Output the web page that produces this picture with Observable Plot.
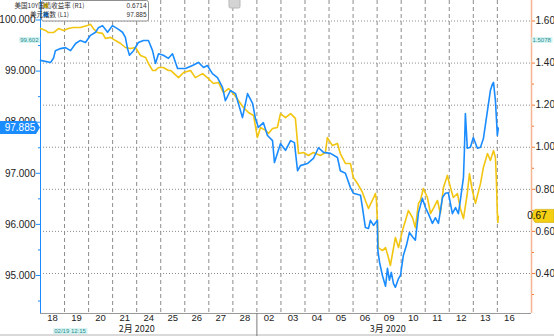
<!DOCTYPE html>
<html><head><meta charset="utf-8">
<script src="https://cdn.jsdelivr.net/npm/d3@7"></script>
<script src="https://cdn.jsdelivr.net/npm/@observablehq/plot@0.6"></script>
<style>
html,body{margin:0;padding:0;background:#fff;}
#chart{width:554px;height:336px;overflow:hidden;}
</style></head><body><div id="chart"></div>
<script>
// ---- data (x = trading-day index from 18 Feb 2020; 1 unit = 1 trading day) ----
const dayLabels = ["18","19","20","21","24","25","26","27","28","02","03","04","05","06","09","10","11","12","13","16"];
const monthNames = ["2月 2020", "3月 2020"];
const dxyName = "美元指数 (L1)";
const yieldName = "美国10Y国债收益率 (R1)";
const lastDxy = 97.885;
const lastYield = 0.6714;
const crossLeft = "99.602", crossRight = "1.5078", crossTime = "02/19 12:15";
const leftTicks = [95, 96, 97, 98, 99, 100];
const leftMinor = [94.5, 95.5, 96.5, 97.5, 98.5, 99.5];
const rightTicks = [0.4, 0.6, 0.8, 1.0, 1.2, 1.4, 1.6];
const rightMinor = [0.3, 0.5, 0.7, 0.9, 1.1, 1.3, 1.5];

const dxySeries = [
[0,99.21],[0.42,99.17],[0.54,99.25],[0.62,99.40],[0.83,99.44],[1.04,99.46],[1.25,99.40],[1.46,99.54],[1.66,99.60],[1.87,99.56],
[2.08,99.70],[2.29,99.76],[2.41,99.85],[2.58,99.89],[2.79,99.76],[2.99,99.89],[3.20,99.83],[3.41,99.76],[3.53,99.66],[3.62,99.44],
[3.70,99.31],[3.87,99.40],[4.07,99.56],[4.28,99.60],[4.49,99.60],[4.66,99.40],[4.78,99.15],[4.91,99.34],[5.11,99.31],[5.32,99.25],
[5.49,99.34],[5.70,99.05],[6.03,99.05],[6.32,99.11],[6.57,99.17],[6.78,99.07],[6.94,99.11],[7.15,98.95],[7.36,98.87],[7.57,98.68],
[7.69,98.42],[7.90,98.62],[8.11,98.56],[8.40,98.09],[8.61,98.56],[8.82,98.37],[8.94,98.07],[9.06,97.90],[9.27,97.99],[9.44,97.74],
[9.65,97.64],[9.73,97.21],[9.98,97.58],[10.19,97.45],[10.40,97.64],[10.56,97.60],[10.69,97.05],[10.81,97.15],[11.10,97.19],[11.35,97.29],
[11.56,97.50],[11.77,97.41],[12.06,97.39],[12.35,97.31],[12.47,97.05],[12.68,97.00],[12.89,96.72],[13.01,96.61],[13.31,96.57],[13.39,96.33],
[13.51,95.94],[13.64,95.92],[13.72,96.08],[13.85,95.98],[14.01,96.08],[14.03,95.49],[14.10,95.26],[14.22,95.00],[14.35,94.79],[14.43,95.14],
[14.51,94.91],[14.59,95.06],[14.68,94.84],[14.76,94.77],[14.89,94.94],[14.97,95.00],[15.09,95.39],[15.22,95.59],[15.34,95.84],[15.47,95.76],
[15.59,95.69],[15.72,96.23],[15.88,96.51],[16.01,96.33],[16.13,96.21],[16.30,96.02],[16.42,96.13],[16.55,96.02],[16.72,96.53],[16.84,96.61],
[16.96,96.62],[17.13,96.21],[17.26,96.33],[17.38,96.21],[17.46,96.47],[17.59,96.92],[17.63,97.45],[17.67,98.17],[17.71,97.84],[17.75,97.49],
[17.88,97.51],[18.00,97.70],[18.17,97.49],[18.30,97.51],[18.42,97.68],[18.59,98.23],[18.71,98.62],[18.79,98.74],[18.84,98.78],[18.92,98.42],
[19.00,97.74],[19.04,97.885]
];

const yieldSeries = [
[0,1.564],[0.21,1.555],[0.33,1.545],[0.54,1.545],[0.75,1.564],[0.96,1.555],[1.16,1.564],[1.37,1.569],[1.66,1.569],[1.95,1.579],
[2.08,1.584],[2.20,1.564],[2.37,1.545],[2.58,1.541],[2.70,1.517],[2.91,1.522],[3.12,1.507],[3.33,1.493],[3.53,1.474],[3.74,1.469],
[3.95,1.474],[4.16,1.436],[4.37,1.427],[4.49,1.398],[4.66,1.365],[4.78,1.365],[4.91,1.379],[5.11,1.379],[5.32,1.365],[5.41,1.365],
[5.74,1.331],[5.95,1.355],[6.24,1.365],[6.44,1.331],[6.74,1.350],[6.94,1.331],[7.19,1.303],[7.40,1.308],[7.61,1.260],[7.82,1.279],
[8.02,1.255],[8.23,1.222],[8.44,1.189],[8.65,1.165],[8.86,1.151],[9.02,1.046],[9.15,1.094],[9.36,1.080],[9.48,1.065],[9.65,1.089],
[9.85,1.094],[9.98,1.160],[10.19,1.141],[10.40,1.160],[10.60,1.137],[10.73,0.970],[10.94,0.975],[11.14,0.961],[11.35,0.975],[11.64,0.961],
[11.85,0.975],[11.93,1.046],[12.14,1.008],[12.35,1.018],[12.47,0.970],[12.68,0.923],[12.89,0.923],[13.01,0.856],[13.18,0.828],[13.39,0.785],
[13.51,0.747],[13.64,0.709],[13.80,0.747],[13.93,0.780],[13.97,0.750],[14.01,0.652],[14.05,0.523],[14.22,0.509],[14.35,0.523],[14.47,0.476],
[14.55,0.438],[14.64,0.495],[14.76,0.571],[14.89,0.523],[15.05,0.604],[15.18,0.652],[15.30,0.699],[15.47,0.666],[15.59,0.618],[15.72,0.733],
[15.80,0.747],[15.92,0.804],[16.09,0.761],[16.22,0.685],[16.34,0.709],[16.51,0.747],[16.63,0.685],[16.76,0.809],[16.92,0.866],[17.05,0.809],
[17.17,0.761],[17.34,0.780],[17.46,0.709],[17.59,0.661],[17.75,0.780],[17.84,0.875],[17.96,0.794],[18.09,0.733],[18.30,0.828],[18.42,0.904],
[18.59,0.970],[18.71,0.937],[18.84,0.984],[18.92,0.951],[18.96,0.842],[19.00,0.685],[19.02,0.642],[19.04,0.6714]
];

// ---- layout / style ----
const W = 554, H = 336;
const mL = 40, mR = 23, mT = 0, mB = 23;
const xDomain = [0, 20.42];
const yDomain = [94.2564, 100.3816];          // left axis (dollar index)
const rDomain = [0.2098, 1.6974];             // right axis (10Y yield)
const toL = d3.scaleLinear().domain(rDomain).range(yDomain);
const blue = "#1a8cff", gold = "#f2c511", axisOrange = "#f7b592", tickOrange = "#f07a3a";
const font = "'Liberation Sans', Arial, sans-serif";
const cjk = "'Noto Sans CJK SC', 'Liberation Sans', sans-serif";

const dayBounds = d3.range(1, dayLabels.length);
const dayCenters = dayLabels.map((d, i) => i + 0.5);
const febCount = dayLabels.indexOf("02");
const monthPos = [febCount * 0.445, febCount + (dayLabels.length - febCount) * 0.495];

const plot = Plot.plot({
  width: W, height: H,
  marginLeft: mL, marginRight: mR, marginTop: mT, marginBottom: mB,
  x: {domain: xDomain},
  y: {domain: yDomain},
  style: {background: "white", fontFamily: font, fontSize: "10px", color: "#222"},
  marks: [
    Plot.ruleY(rightTicks.map(toL), {stroke: "#8c8c8c", strokeWidth: 1, strokeDasharray: "1,2"}),
    Plot.ruleX(dayBounds, {stroke: "#8c8c8c", strokeWidth: 1, strokeDasharray: "4,3"}),
    Plot.ruleY([yDomain[0]], {stroke: "#9a9a9a"}),
    Plot.ruleX([xDomain[0]], {stroke: blue, strokeWidth: 1}),
    Plot.ruleX([xDomain[1]], {stroke: axisOrange, strokeWidth: 1.5}),
    Plot.axisY(leftTicks, {anchor: "left", tickSize: 4, tickPadding: 1, stroke: blue, fill: "#222",
      tickFormat: d => d.toFixed(3), label: null, fontSize: 10}),
    Plot.axisY(leftMinor, {anchor: "left", tickSize: 2, stroke: blue, tickFormat: () => "", label: null}),
    Plot.axisY(rightTicks.map(toL), {anchor: "right", tickSize: 3, tickPadding: 1, stroke: tickOrange, fill: "#222",
      tickFormat: d => toL.invert(d).toFixed(2), label: null, fontSize: 10}),
    Plot.axisY(rightMinor.map(toL), {anchor: "right", tickSize: 2, stroke: tickOrange, tickFormat: () => "", label: null}),
    Plot.axisX(dayCenters, {anchor: "bottom", tickSize: 0, tickPadding: 1, fill: "#222",
      tickFormat: d => dayLabels[Math.floor(d)], label: null, fontSize: 9.5}),
    Plot.text(monthNames, {x: (d, i) => monthPos[i], frameAnchor: "bottom", dy: 18.5, text: d => d,
      fontFamily: cjk, fontSize: 9, fill: "#222"}),
    Plot.line(yieldSeries, {x: d => d[0], y: d => toL(d[1]), stroke: gold, strokeWidth: 1.6}),
    Plot.line(dxySeries, {x: d => d[0], y: d => d[1], stroke: blue, strokeWidth: 1.6})
  ]
});
document.getElementById("chart").appendChild(plot);

// ---- overlays: legend, last-value tags, crosshair labels ----
const sx = plot.scale("x"), sy = plot.scale("y");
const g = d3.select(plot).append("g");

// bottom band and month separator
g.append("rect").attr("x", 0).attr("y", H - 2).attr("width", W).attr("height", 2).attr("fill", "#d9d9d9");
g.append("line").attr("x1", sx.apply(febCount) + 0.5).attr("x2", sx.apply(febCount) + 0.5)
  .attr("y1", H - mB).attr("y2", H).attr("stroke", "#7a7a7a");

// legend
const lg = g.append("g");
lg.append("rect").attr("x", 41.5).attr("y", 0.5).attr("width", 107).attr("height", 20.5).attr("rx", 2)
  .attr("fill", "white").attr("stroke", "#8f8f8f");
[[gold, yieldName, lastYield.toFixed(4)], [blue, dxyName, String(lastDxy)]].forEach(([c, name, val], i) => {
  const yy = 3.3 + i * 9;
  lg.append("rect").attr("x", 43.5).attr("y", yy).attr("width", 4.5).attr("height", 4.5).attr("fill", c);
  lg.append("text").attr("x", 49.5).attr("y", yy + 5).attr("font-family", cjk).attr("font-size", 6.5)
    .attr("fill", "#333").text(name);
  lg.append("text").attr("x", 146.5).attr("y", yy + 5).attr("text-anchor", "end").attr("font-family", font)
    .attr("font-size", 6.5).attr("fill", "#333").text(val);
});

// left tag (dollar index)
const yl = sy.apply(lastDxy);
g.append("path").attr("d", `M0,${yl - 6.5}H36L40,${yl}L36,${yl + 6.5}H0Z`).attr("fill", blue);
g.append("text").attr("x", 20).attr("y", yl).attr("dy", "0.36em").attr("text-anchor", "middle")
  .attr("font-family", font).attr("font-size", 10).attr("fill", "white").text(lastDxy.toFixed(3));

// right tag (yield)
const yr = sy.apply(toL(lastYield));
const xr = W - mR;
g.append("path").attr("d", `M${xr},${yr}L${xr + 4},${yr - 6.5}H${W}V${yr + 6.5}H${xr + 4}Z`)
  .attr("fill", "#f5cf14").attr("stroke", "#c9a500").attr("stroke-width", 0.6);
g.append("text").attr("x", xr + 6).attr("y", yr).attr("dy", "0.36em")
  .attr("font-family", font).attr("font-size", 10).attr("fill", "#111").text(lastYield.toFixed(2));

// crosshair labels
function chip(x, y, txt, anchor) {
  const t = g.append("text").attr("x", x).attr("y", y).attr("dy", "0.35em").attr("text-anchor", anchor)
    .attr("font-family", font).attr("font-size", 6).attr("fill", "#2a8f8f").text(txt);
  const b = t.node().getBBox();
  g.insert("rect", () => t.node()).attr("x", b.x - 1).attr("y", b.y).attr("width", b.width + 2)
    .attr("height", b.height).attr("fill", "#d6f3f3");
}
chip(mL - 1.5, sy.apply(+crossLeft), crossLeft, "end");
chip(xr + 1.5, sy.apply(toL(+crossRight)), crossRight, "start");
chip(sx.apply(1.25), H - 5, crossTime, "middle");

// small toolbar button at the top
g.append("rect").attr("x", 229).attr("y", -2).attr("width", 11).attr("height", 10).attr("rx", 1.5)
  .attr("fill", "#d4d4d4").attr("stroke", "#b8b8b8");
</script>
</body></html>
